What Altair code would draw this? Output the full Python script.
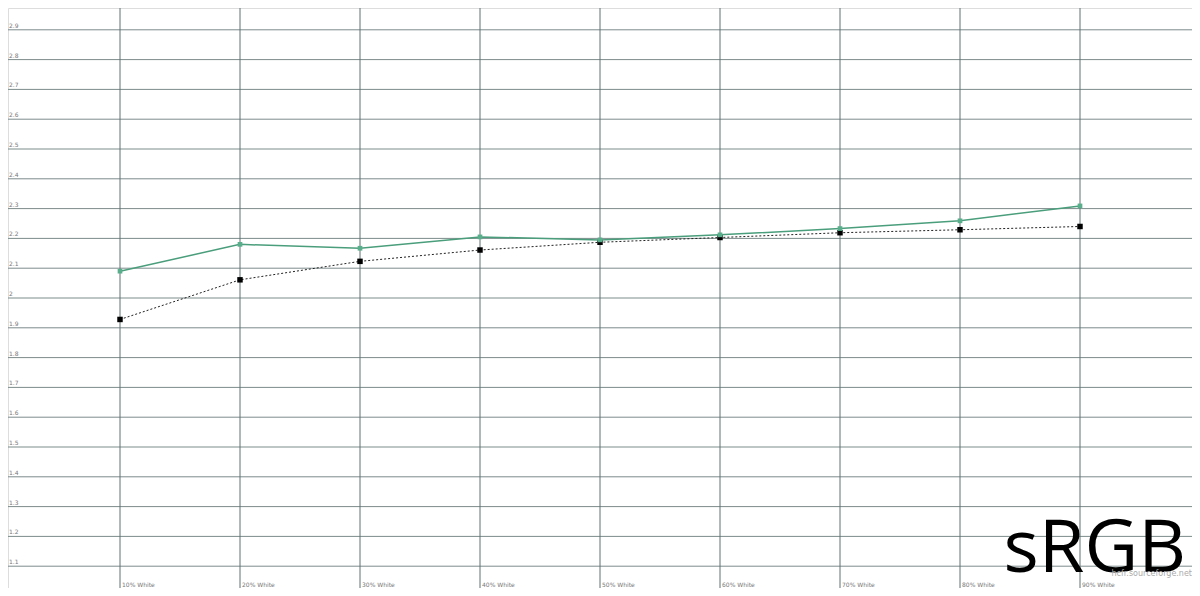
import altair as alt
import pandas as pd

levels = [1, 2, 3, 4, 5, 6, 7, 8, 9]
x_labels = ["10% White", "20% White", "30% White", "40% White", "50% White",
            "60% White", "70% White", "80% White", "90% White"]
measured = [2.09, 2.18, 2.167, 2.205, 2.195, 2.212, 2.233, 2.259, 2.309]
reference = [1.928, 2.061, 2.123, 2.161, 2.187, 2.203, 2.219, 2.229, 2.240]
y_ticks = [1.1, 1.2, 1.3, 1.4, 1.5, 1.6, 1.7, 1.8, 1.9, 2.0, 2.1, 2.2, 2.3, 2.4, 2.5, 2.6, 2.7, 2.8, 2.9]
y_tick_labels = ["1.1", "1.2", "1.3", "1.4", "1.5", "1.6", "1.7", "1.8", "1.9", "2", "2.1",
                 "2.2", "2.3", "2.4", "2.5", "2.6", "2.7", "2.8", "2.9"]
v_grid = [1, 2, 3, 4, 5, 6, 7, 8, 9]

# plot area occupies the page from (8,8) to (1192,588)
W, H = 1184, 580
xs = alt.Scale(domain=[8 / 120, 1192 / 120], nice=False, zero=False)
ys = alt.Scale(domain=[3.0 - 588 / 298, 3.0 - 8 / 298], nice=False, zero=False)

df = pd.DataFrame({"x": levels, "lab": x_labels, "m": measured, "r": reference})
dy = pd.DataFrame({"y": y_ticks, "lab": y_tick_labels})
dv = pd.DataFrame({"x": v_grid})

grid_color = "#7d8b8b"

hgrid = alt.Chart(dy).mark_rule(color=grid_color, strokeWidth=1).encode(
    y=alt.Y("y:Q", scale=ys, axis=None), x=alt.value(0), x2=alt.value(W))
vgrid = alt.Chart(dv).mark_rule(color="#5f7373", strokeWidth=1).encode(
    x=alt.X("x:Q", scale=xs, axis=None), y=alt.value(0), y2=alt.value(H))
ylab = alt.Chart(dy).mark_text(align="left", baseline="bottom", dx=1, dy=-1,
                               fontSize=6, color="#777777", font="DejaVu Sans").encode(
    y=alt.Y("y:Q", scale=ys, axis=None), x=alt.value(0), text="lab:N")
xlab = alt.Chart(df).mark_text(align="left", baseline="alphabetic", dx=2,
                               fontSize=6, color="#777777", font="DejaVu Sans").encode(
    x=alt.X("x:Q", scale=xs, axis=None), y=alt.value(579), text="lab:N")

ref_line = alt.Chart(df).mark_line(color="#222222", strokeWidth=1, strokeDash=[2, 2]).encode(
    x=alt.X("x:Q", scale=xs, axis=None), y=alt.Y("r:Q", scale=ys, axis=None))
ref_pts = alt.Chart(df).mark_square(color="#000000", size=30, opacity=1).encode(
    x=alt.X("x:Q", scale=xs, axis=None), y=alt.Y("r:Q", scale=ys, axis=None))
m_line = alt.Chart(df).mark_line(color="#4a9e7c", strokeWidth=1.5).encode(
    x=alt.X("x:Q", scale=xs, axis=None), y=alt.Y("m:Q", scale=ys, axis=None))
m_pts = alt.Chart(df).mark_square(color="#5aae8c", size=22, opacity=1).encode(
    x=alt.X("x:Q", scale=xs, axis=None), y=alt.Y("m:Q", scale=ys, axis=None))

srgb = alt.Chart(pd.DataFrame({"t": ["sRGB"]})).mark_text(
    align="right", baseline="alphabetic", fontSize=74, color="#000000", font="Open Sans").encode(
    x=alt.value(1178), y=alt.value(564), text="t:N")
site = alt.Chart(pd.DataFrame({"t": ["hcfr.sourceforge.net"]})).mark_text(
    align="right", baseline="alphabetic", fontSize=8, color="#aaaaaa", font="DejaVu Sans").encode(
    x=alt.value(1184), y=alt.value(568), text="t:N")

chart = alt.layer(hgrid, vgrid, ylab, xlab, ref_line, ref_pts, m_line, m_pts, srgb, site).properties(
    width=W, height=H,
    padding=0,
    autosize=alt.AutoSizeParams(type="none"),
).configure_view(stroke=None).configure(background="white")

chart.save("out.html", embed_options={"renderer": "svg", "actions": False})
